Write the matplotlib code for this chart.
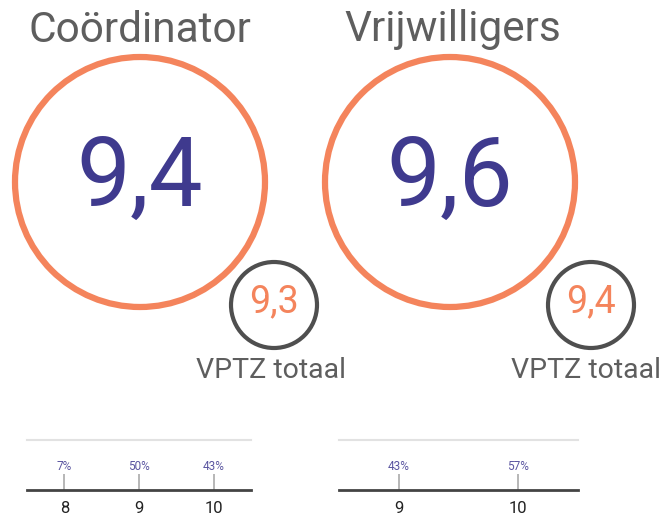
import matplotlib as mpl
mpl.use('Agg')
import matplotlib.pyplot as plt
from matplotlib.patches import Circle

plt.rcParams['font.family'] = ['Roboto', 'DejaVu Sans']

# data
groups = ['Coördinator', 'Vrijwilligers']
scores = [9.4, 9.6]
vptz_scores = [9.3, 9.4]
vptz_label = 'VPTZ totaal'
dist_cats = [[8, 9, 10], [9, 10]]
dist_pct = [[7, 50, 43], [43, 57]]

ORANGE = '#f4845c'
PURPLE = '#3f3a8e'
GREY_TXT = '#5e5e5e'
RING = '#4f4f4f'

W, H = 663, 517
fig = plt.figure(figsize=(W / 100, H / 100), dpi=100)
ax = fig.add_axes([0, 0, 1, 1])
ax.set_xlim(0, W)
ax.set_ylim(H, 0)
ax.axis('off')

def fmt(v):
    return ('%.1f' % v).replace('.', ',')

# layout per panel (pixel positions)
panels = [
    dict(title_x=140, cx=140, sx=274, lbl_x=271, bx0=27, bx1=251),
    dict(title_x=453, cx=450, sx=591, lbl_x=586, bx0=339, bx1=578),
]

for i, p in enumerate(panels):
    ax.text(p['title_x'], 30, groups[i], ha='center', va='center',
            fontsize=30.5, color=GREY_TXT)
    ax.add_patch(Circle((p['cx'], 182), 125, fill=False, lw=4.5, ec=ORANGE))
    ax.text(p['cx'], 180, fmt(scores[i]), ha='center', va='center',
            fontsize=69, color=PURPLE)
    ax.add_patch(Circle((p['sx'], 305), 43, fill=False, lw=3, ec=RING))
    ax.text(p['sx'], 302, fmt(vptz_scores[i]), ha='center', va='center',
            fontsize=27, color=ORANGE)
    ax.text(p['lbl_x'], 371, vptz_label, ha='center', va='center',
            fontsize=20.5, color=GREY_TXT)

    # distribution strip
    cats = dist_cats[i]
    bx = fig.add_axes([p['bx0'] / W, 1 - 490 / H, (p['bx1'] - p['bx0']) / W, 50 / H])
    bx.set_xlim(cats[0] - 0.5, cats[-1] + 0.5)
    bx.set_ylim(0, 1)
    bx.patch.set_alpha(0)
    for s in ['left', 'right']:
        bx.spines[s].set_visible(False)
    bx.spines['top'].set_color('#e2e2e2')
    bx.spines['top'].set_linewidth(1.5)
    bx.spines['bottom'].set_color('#444444')
    bx.spines['bottom'].set_linewidth(2)
    bx.set_yticks([])
    bx.set_xticks(cats)
    bx.set_xticklabels([str(c) for c in cats])
    bx.tick_params(axis='x', length=0, pad=8, labelsize=12, labelcolor='#222222')
    bx.vlines(cats, 0, 0.33, color='#aaaaaa', lw=1.2)
    for c, v in zip(cats, dist_pct[i]):
        bx.text(c, 0.47, '%d%%' % v, ha='center', va='center',
                fontsize=8.5, color='#5a55a0')

fig.savefig('out.png', dpi=100)
